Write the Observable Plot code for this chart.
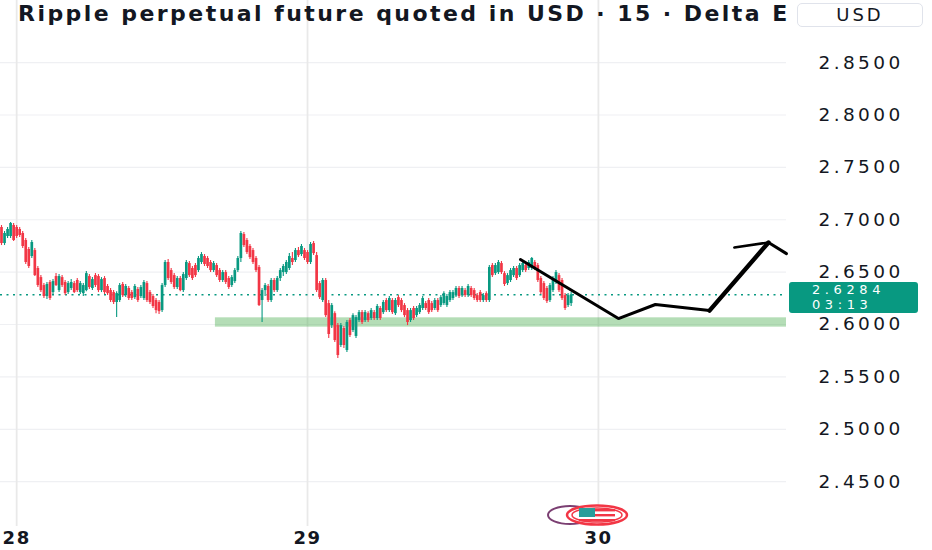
<!DOCTYPE html>
<html><head><meta charset="utf-8">
<script src="https://cdn.jsdelivr.net/npm/d3@7"></script>
<script src="https://cdn.jsdelivr.net/npm/@observablehq/plot@0.6"></script>
<style>
body{margin:0;background:#fff;}
#wrap{position:relative;width:932px;height:550px;overflow:hidden;font-family:"DejaVu Sans",sans-serif;}
#title{position:absolute;left:18px;top:1px;white-space:nowrap;font-weight:bold;font-size:22px;letter-spacing:2.45px;color:#131722;}
#usd{position:absolute;left:797px;top:3px;width:124px;height:22px;border:1px solid #e0e3eb;border-radius:5px;background:#fff;text-align:center;line-height:22px;font-size:18px;letter-spacing:3px;color:#131722;}
#price{position:absolute;left:789px;width:129px;height:31px;background:#089981;border-radius:3px;color:#fff;font-size:13px;letter-spacing:4.6px;line-height:15px;padding:0 0 0 23px;box-sizing:border-box;}
#logo{position:absolute;left:545px;top:504px;}
</style></head>
<body>
<div id="wrap">
  <div id="chart"></div>
  <div id="title">Ripple perpetual future quoted in USD · 15 · Delta E</div>
  <div id="usd">USD</div>
  <div id="price"><div>2.6284</div><div>03:13</div></div>
  <svg id="logo" width="90" height="24">
    <ellipse cx="25" cy="11" rx="22" ry="9" fill="#fff" stroke="#7b3f72" stroke-width="2"/>
    <ellipse cx="52" cy="11" rx="30" ry="9.5" fill="#fff" stroke="#f23645" stroke-width="2.5"/>
    <ellipse cx="52" cy="11" rx="25" ry="7" fill="#fff" stroke="#f23645" stroke-width="1.5"/>
    <rect x="34" y="5" width="36" height="2.4" fill="#f23645"/>
    <rect x="34" y="10" width="36" height="2.4" fill="#f23645"/>
    <rect x="34" y="15" width="36" height="2.4" fill="#f23645"/>
    <rect x="34" y="4" width="16" height="9" fill="#2a9d9a"/>
  </svg>
</div>
<script>
// 15-minute candles, Ripple perpetual (XRPUSD), starting 27th 22:45 UTC
const startTime = "2025-10-27T22:45:00Z";
const intervalMinutes = 15;

const opens = [2.6926,2.6773,2.6840,2.6840,2.6945,2.6926,2.6907,2.6869,2.6802,2.6716,
2.6649,2.6706,2.6535,2.6448,2.6372,2.6267,2.6401,2.6305,2.6458,2.6324,
2.6448,2.6401,2.6305,2.6344,2.6391,2.6420,2.6305,2.6295,2.6324,2.6458,
2.6344,2.6467,2.6458,2.6324,2.6439,2.6363,2.6324,2.6305,2.6210,2.6229,
2.6382,2.6276,2.6344,2.6305,2.6257,2.6334,2.6267,2.6248,2.6391,2.6305,
2.6267,2.6229,2.6210,2.6133,2.6372,2.6592,2.6515,2.6467,2.6353,2.6439,
2.6324,2.6439,2.6582,2.6535,2.6563,2.6515,2.6592,2.6649,2.6630,2.6592,
2.6515,2.6563,2.6515,2.6420,2.6496,2.6439,2.6372,2.6410,2.6515,2.6630,
2.6859,2.6802,2.6745,2.6706,2.6630,2.6544,2.6229,2.6324,2.6363,2.6229,
2.6420,2.6324,2.6439,2.6496,2.6496,2.6535,2.6630,2.6611,2.6706,2.6668,
2.6706,2.6687,2.6592,2.6773,2.6658,2.6391,2.6229,2.6420,2.6200,2.5990,
2.6104,2.5990,2.5800,2.5962,2.5752,2.6038,2.5943,2.5886,2.6038,2.6114,
2.6038,2.6104,2.6057,2.6114,2.6057,2.6153,2.6114,2.6229,2.6133,2.6229,
2.6104,2.6257,2.6229,2.6181,2.6133,2.6038,2.6153,2.6085,2.6114,2.6153,
2.6200,2.6229,2.6200,2.6153,2.6229,2.6181,2.6200,2.6181,2.6229,2.6248,
2.6276,2.6344,2.6276,2.6324,2.6276,2.6344,2.6324,2.6276,2.6305,2.6229,
2.6295,2.6229,2.6563,2.6486,2.6496,2.6582,2.6486,2.6391,2.6420,2.6467,
2.6535,2.6467,2.6515,2.6563,2.6535,2.6535,2.6592,2.6563,2.6439,2.6391,
2.6344,2.6229,2.6324,2.6401,2.6467,2.6420,2.6276,2.6181,2.6200];

const highs = [2.6945,2.6888,2.6926,2.6974,2.6964,2.6945,2.6926,2.6888,2.6821,2.6735,
2.6802,2.6726,2.6554,2.6467,2.6391,2.6401,2.6420,2.6429,2.6486,2.6477,
2.6467,2.6420,2.6410,2.6429,2.6410,2.6439,2.6410,2.6391,2.6505,2.6477,
2.6448,2.6486,2.6477,2.6448,2.6458,2.6382,2.6344,2.6324,2.6314,2.6391,
2.6401,2.6382,2.6363,2.6324,2.6382,2.6353,2.6372,2.6420,2.6410,2.6324,
2.6286,2.6248,2.6229,2.6391,2.6611,2.6620,2.6535,2.6486,2.6458,2.6458,
2.6496,2.6611,2.6601,2.6554,2.6582,2.6649,2.6687,2.6668,2.6649,2.6611,
2.6601,2.6582,2.6535,2.6515,2.6515,2.6458,2.6467,2.6535,2.6649,2.6888,
2.6878,2.6821,2.6764,2.6726,2.6649,2.6563,2.6344,2.6391,2.6382,2.6439,
2.6439,2.6458,2.6535,2.6573,2.6611,2.6677,2.6687,2.6726,2.6735,2.6764,
2.6726,2.6706,2.6783,2.6792,2.6687,2.6410,2.6439,2.6439,2.6229,2.6200,
2.6123,2.6009,2.6009,2.5981,2.6038,2.6057,2.6104,2.6085,2.6133,2.6133,
2.6133,2.6123,2.6153,2.6133,2.6191,2.6172,2.6229,2.6248,2.6267,2.6248,
2.6248,2.6276,2.6248,2.6200,2.6153,2.6153,2.6172,2.6172,2.6200,2.6267,
2.6219,2.6248,2.6219,2.6248,2.6248,2.6276,2.6314,2.6286,2.6324,2.6324,
2.6363,2.6363,2.6363,2.6344,2.6382,2.6363,2.6344,2.6295,2.6324,2.6295,
2.6314,2.6563,2.6582,2.6582,2.6611,2.6601,2.6505,2.6486,2.6535,2.6554,
2.6554,2.6582,2.6601,2.6582,2.6611,2.6639,2.6611,2.6582,2.6458,2.6410,
2.6363,2.6391,2.6458,2.6515,2.6486,2.6439,2.6295,2.6295,2.6305];

const lows = [2.6754,2.6754,2.6821,2.6821,2.6792,2.6821,2.6831,2.6726,2.6573,2.6535,
2.6630,2.6458,2.6353,2.6305,2.6248,2.6238,2.6229,2.6286,2.6363,2.6305,
2.6353,2.6276,2.6286,2.6324,2.6295,2.6305,2.6286,2.6267,2.6314,2.6334,
2.6324,2.6353,2.6305,2.6305,2.6286,2.6276,2.6210,2.6191,2.6066,2.6210,
2.6257,2.6257,2.6229,2.6229,2.6238,2.6210,2.6248,2.6229,2.6210,2.6191,
2.6153,2.6104,2.6095,2.6114,2.6353,2.6420,2.6382,2.6334,2.6334,2.6314,
2.6305,2.6420,2.6448,2.6420,2.6448,2.6496,2.6573,2.6554,2.6535,2.6496,
2.6496,2.6448,2.6401,2.6401,2.6382,2.6334,2.6353,2.6391,2.6496,2.6592,
2.6735,2.6668,2.6620,2.6573,2.6496,2.6172,2.6019,2.6267,2.6210,2.6210,
2.6305,2.6305,2.6410,2.6458,2.6477,2.6515,2.6563,2.6592,2.6639,2.6649,
2.6611,2.6573,2.6573,2.6658,2.6305,2.6238,2.6210,2.6066,2.5866,2.5962,
2.5828,2.5675,2.5781,2.5771,2.5733,2.5876,2.5924,2.5866,2.6019,2.6000,
2.6019,2.6019,2.6038,2.6038,2.6038,2.6038,2.6095,2.6114,2.6114,2.6095,
2.6085,2.6162,2.6114,2.6066,2.5990,2.6019,2.6038,2.6066,2.6095,2.6133,
2.6133,2.6095,2.6114,2.6133,2.6114,2.6162,2.6181,2.6162,2.6210,2.6229,
2.6257,2.6248,2.6257,2.6257,2.6257,2.6257,2.6229,2.6210,2.6210,2.6210,
2.6210,2.6210,2.6448,2.6467,2.6477,2.6477,2.6363,2.6372,2.6401,2.6448,
2.6420,2.6448,2.6496,2.6496,2.6515,2.6515,2.6515,2.6401,2.6286,2.6229,
2.6200,2.6210,2.6305,2.6382,2.6305,2.6229,2.6133,2.6162,2.6172];

const closes = [2.6773,2.6869,2.6907,2.6964,2.6802,2.6840,2.6850,2.6745,2.6592,2.6554,
2.6783,2.6467,2.6372,2.6324,2.6267,2.6382,2.6248,2.6410,2.6372,2.6458,
2.6372,2.6295,2.6391,2.6401,2.6305,2.6324,2.6391,2.6372,2.6486,2.6353,
2.6429,2.6372,2.6324,2.6429,2.6305,2.6295,2.6229,2.6210,2.6295,2.6372,
2.6276,2.6363,2.6248,2.6248,2.6363,2.6229,2.6353,2.6401,2.6229,2.6210,
2.6172,2.6133,2.6123,2.6372,2.6592,2.6439,2.6401,2.6353,2.6439,2.6324,
2.6477,2.6592,2.6467,2.6439,2.6467,2.6630,2.6668,2.6573,2.6554,2.6515,
2.6582,2.6467,2.6420,2.6496,2.6401,2.6353,2.6448,2.6515,2.6630,2.6869,
2.6754,2.6687,2.6639,2.6592,2.6515,2.6181,2.6324,2.6372,2.6229,2.6420,
2.6324,2.6439,2.6515,2.6554,2.6592,2.6649,2.6592,2.6706,2.6658,2.6745,
2.6630,2.6592,2.6764,2.6677,2.6324,2.6257,2.6420,2.6085,2.5905,2.6181,
2.5847,2.5704,2.5990,2.5800,2.6019,2.5895,2.6085,2.6066,2.6114,2.6019,
2.6114,2.6038,2.6133,2.6057,2.6172,2.6057,2.6210,2.6133,2.6248,2.6114,
2.6229,2.6181,2.6133,2.6085,2.6019,2.6133,2.6057,2.6153,2.6181,2.6248,
2.6153,2.6114,2.6133,2.6229,2.6133,2.6257,2.6295,2.6267,2.6305,2.6305,
2.6344,2.6267,2.6344,2.6276,2.6363,2.6276,2.6248,2.6229,2.6229,2.6276,
2.6229,2.6544,2.6467,2.6563,2.6592,2.6496,2.6382,2.6467,2.6515,2.6535,
2.6439,2.6563,2.6582,2.6515,2.6592,2.6630,2.6535,2.6420,2.6305,2.6248,
2.6219,2.6372,2.6439,2.6496,2.6324,2.6248,2.6153,2.6276,2.6284];

// Price axis ticks and day labels
const yTicks = [2.45, 2.5, 2.55, 2.6, 2.65, 2.7, 2.75, 2.8, 2.85];
const dayTicks = ["2025-10-28", "2025-10-29", "2025-10-30"];

// Support zone (green rectangle)
const zoneStart = "2025-10-28T16:24:00Z";
const zoneLow = 2.5975;
const zoneHigh = 2.6064;

// Hand-drawn projection path
const projTimes = ["2025-10-29T17:34:00Z","2025-10-30T01:39:00Z","2025-10-30T04:42:00Z","2025-10-30T09:10:00Z","2025-10-30T14:02:00Z","2025-10-30T15:31:00Z"];
const projPrices = [2.6620, 2.6057, 2.6191, 2.6133, 2.6783, 2.6677];
const arrowTailTime = "2025-10-30T11:13:00Z";
const arrowTailPrice = 2.6735;

const lastPrice = 2.6284;

// ---- build ----
const step = intervalMinutes * 60000;
const t0 = new Date(startTime).getTime();
const bars = opens.map((o, i) => ({
  t: new Date(t0 + i * step), o, h: highs[i], l: lows[i], c: closes[i],
  up: closes[i] >= o
}));
const proj = projTimes.map((t, i) => ({t: new Date(t), p: projPrices[i]}));
const arrow = [{t: new Date(arrowTailTime), p: arrowTailPrice}, proj[4]];
const days = dayTicks.map(d => new Date(d + "T00:00:00Z"));
const xDomain = [new Date(t0 - step / 3.03), new Date(t0 + step * 785 / 3.03)];
const GREEN = "#089981", RED = "#f23645";

const plot = Plot.plot({
  width: 932, height: 550,
  marginLeft: 0, marginRight: 146, marginTop: 0, marginBottom: 24,
  style: {fontFamily: "DejaVu Sans, sans-serif", color: "#131722", background: "transparent"},
  x: {type: "utc", domain: xDomain, axis: null},
  y: {domain: [2.4072, 2.9093], axis: null},
  marks: [
    Plot.ruleY(yTicks, {stroke: "#eff0f3", strokeWidth: 1.2}),
    Plot.ruleX(days, {stroke: "#e9e9e9", strokeWidth: 1.8}),
    Plot.rect([{}], {x1: () => new Date(zoneStart), x2: () => xDomain[1], y1: () => zoneLow, y2: () => zoneHigh, fill: "rgba(76,175,80,0.42)"}),
    Plot.ruleY([lastPrice], {stroke: GREEN, strokeWidth: 1.3, strokeDasharray: "2,4.5"}),
    Plot.ruleX(bars, {x: "t", y1: "l", y2: "h", stroke: d => d.up ? GREEN : RED, strokeWidth: 1.1}),
    Plot.ruleX(bars, {x: "t", y1: "o", y2: "c", stroke: d => d.up ? GREEN : RED, strokeWidth: 2.7}),
    Plot.line(proj.slice(0, 4), {x: "t", y: "p", stroke: "#000", strokeWidth: 3, strokeLinejoin: "miter"}),
    Plot.line(proj.slice(3, 5), {x: "t", y: "p", stroke: "#000", strokeWidth: 4.4}),
    Plot.line(proj.slice(4, 6), {x: "t", y: "p", stroke: "#000", strokeWidth: 3}),
    Plot.line(arrow, {x: "t", y: "p", stroke: "#000", strokeWidth: 2.6}),
    Plot.axisY(yTicks, {anchor: "right", label: null, tickSize: 0, tickPadding: 32, tickFormat: d => d.toFixed(4), fontSize: 18.5, fill: "#131722"}),
    Plot.axisX(days, {anchor: "bottom", label: null, tickSize: 0, tickPadding: 5, tickFormat: d3.utcFormat("%-d"), fontSize: 18, fontWeight: "bold", fill: "#131722"})
  ]
});
document.getElementById("chart").appendChild(plot);
d3.select(plot).selectAll('g[aria-label="y-axis tick label"] text').style("letter-spacing", "3.4px");
d3.select(plot).selectAll('g[aria-label="x-axis tick label"] text').style("letter-spacing", "1.5px");

const yScale = plot.scale("y");
const py = yScale.apply(lastPrice);
document.getElementById("price").style.top = (py - 12) + "px";
</script>
</body></html>
